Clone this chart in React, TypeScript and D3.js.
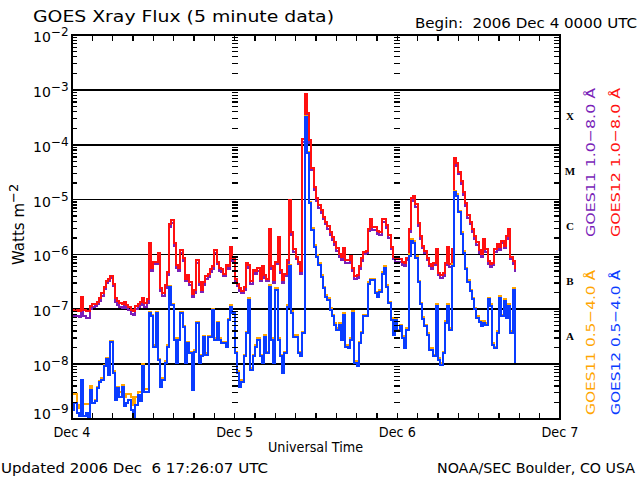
import React from 'react';
import * as d3 from 'd3';

const W = 640;
const H = 480;
const left = 72;
const right = 560;
const top = 35;
const bottom = 419;

const startTime = Date.UTC(2006, 11, 4);
const endTime = Date.UTC(2006, 11, 7);
const stepMinutes = 20;

const dayLabels = ['Dec 4', 'Dec 5', 'Dec 6', 'Dec 7'];
const decadeExps = [-2, -3, -4, -5, -6, -7, -8, -9];
const gridExps = [-3, -4, -5, -6, -7, -8];
const flareClasses = ['A', 'B', 'C', 'M', 'X'];
const flareClassExps = [-8, -7, -6, -5, -4];
const legendLabels = ['GOES11 1.0\u22128.0 \u00c5', 'GOES12 1.0\u22128.0 \u00c5', 'GOES11 0.5\u22124.0 \u00c5', 'GOES12 0.5\u22124.0 \u00c5'];
const seriesColors = ['#7a1fb8', '#ff1010', '#ffa500', '#0a3cff'];

// log10 of flux (W m^-2), one value every 20 minutes from Dec 4 00:00 UT
const goes11Long = [
  -7.10, -7.12, -7.12, -7.14, -7.05, -7.12, -7.16, -7.16, -7.00, -6.96, -6.94, -6.90,
  -6.84, -6.75, -6.63, -6.52, -6.48, -6.43, -6.57, -6.86, -6.92, -6.96, -6.98, -6.94,
  -6.98, -7.02, -7.08, -7.10, -7.00, -6.95, -6.92, -6.86, -6.95, -6.88, -5.85, -6.30,
  -6.18, -6.18, -6.02, -6.67, -6.76, -6.61, -6.37, -5.50, -5.43, -5.85, -6.24, -6.30,
  -5.97, -6.12, -6.49, -6.43, -6.55, -6.77, -6.70, -6.15, -6.55, -6.69, -6.55, -6.44,
  -6.41, -6.32, -6.26, -5.97, -6.18, -6.30, -6.32, -6.40, -6.24, -6.27, -5.91, -6.12,
  -6.50, -6.58, -6.67, -6.71, -6.65, -6.21, -6.24, -6.53, -6.33, -6.35, -6.30, -6.49,
  -6.27, -6.43, -6.49, -5.58, -6.27, -6.52, -6.18, -5.73, -6.33, -6.52, -6.40, -6.15,
  -5.05, -5.65, -5.96, -6.09, -6.18, -6.35, -3.95, -3.10, -3.46, -3.96, -4.47, -4.82,
  -5.03, -5.15, -5.24, -5.36, -5.45, -5.54, -5.64, -5.73, -5.82, -5.93, -6.04, -6.10,
  -5.94, -6.15, -6.15, -6.08, -6.30, -6.44, -6.43, -6.27, -6.12, -6.00, -5.98, -5.58,
  -5.40, -5.55, -5.55, -5.62, -5.64, -5.40, -5.40, -5.52, -5.70, -5.91, -6.09, -6.14,
  -6.13, -6.14, -6.19, -6.21, -6.11, -5.59, -5.03, -4.98, -5.13, -5.48, -5.72, -5.89,
  -5.98, -6.11, -6.22, -6.26, -6.20, -5.95, -6.38, -6.43, -6.39, -6.20, -5.91, -6.23,
  -5.95, -4.29, -4.38, -4.54, -4.72, -4.92, -5.11, -5.33, -5.45, -5.59, -5.71, -5.83,
  -5.97, -6.05, -5.77, -5.95, -6.17, -6.23, -6.20, -5.95, -5.86, -5.92, -5.80, -5.89,
  -5.71, -5.59, -6.09, -6.17, -6.32,
];

const goes12Long = [
  -7.02, -7.04, -7.01, -7.04, -6.78, -7.01, -7.04, -7.04, -6.94, -6.91, -6.90, -6.86,
  -6.80, -6.71, -6.59, -6.48, -6.44, -6.39, -6.53, -6.80, -6.84, -6.88, -6.90, -6.86,
  -6.92, -6.96, -7.01, -7.04, -6.94, -6.90, -6.86, -6.80, -6.89, -6.82, -5.80, -6.25,
  -6.13, -6.13, -5.98, -6.62, -6.71, -6.56, -6.32, -5.45, -5.38, -5.80, -6.19, -6.25,
  -5.92, -6.07, -6.44, -6.38, -6.50, -6.72, -6.65, -6.10, -6.50, -6.64, -6.50, -6.39,
  -6.36, -6.27, -6.21, -5.92, -6.13, -6.25, -6.27, -6.35, -6.19, -6.22, -5.86, -6.07,
  -6.45, -6.53, -6.62, -6.66, -6.60, -6.16, -6.19, -6.48, -6.28, -6.30, -6.25, -6.44,
  -6.22, -6.38, -6.44, -5.53, -6.22, -6.47, -6.13, -5.68, -6.28, -6.47, -6.35, -6.10,
  -5.00, -5.60, -5.91, -6.04, -6.13, -6.30, -3.90, -3.07, -3.42, -3.91, -4.42, -4.77,
  -4.98, -5.10, -5.19, -5.31, -5.40, -5.49, -5.59, -5.68, -5.77, -5.88, -5.99, -6.05,
  -5.89, -6.10, -6.10, -6.03, -6.25, -6.39, -6.38, -6.22, -6.07, -5.95, -5.93, -5.53,
  -5.35, -5.50, -5.50, -5.57, -5.59, -5.35, -5.35, -5.47, -5.65, -5.86, -6.04, -6.09,
  -6.08, -6.09, -6.14, -6.16, -6.06, -5.54, -4.98, -4.93, -5.08, -5.43, -5.67, -5.84,
  -5.93, -6.06, -6.17, -6.21, -6.15, -5.90, -6.33, -6.38, -6.34, -6.15, -5.86, -6.18,
  -5.90, -4.24, -4.33, -4.49, -4.67, -4.87, -5.06, -5.28, -5.40, -5.54, -5.66, -5.78,
  -5.92, -6.00, -5.72, -5.90, -6.12, -6.18, -6.15, -5.90, -5.81, -5.87, -5.75, -5.84,
  -5.66, -5.54, -6.04, -6.12, -6.27,
];

const goes11Short = [
  -8.55, -8.55, -8.75, -8.80, -8.28, -8.72, -8.72, -8.72, -8.40, -8.70, -8.66, -8.42,
  -8.30, -8.26, -8.02, -7.88, -8.15, -7.57, -8.12, -8.45, -8.42, -8.50, -8.38, -8.60,
  -8.55, -8.55, -8.60, -8.75, -8.60, -8.50, -8.50, -8.00, -8.45, -8.45, -7.05, -7.10,
  -7.65, -7.05, -7.90, -8.38, -8.25, -7.95, -7.65, -6.57, -6.90, -7.53, -7.95, -7.53,
  -7.05, -7.30, -7.95, -7.60, -7.78, -8.44, -7.75, -7.23, -7.95, -7.83, -7.48, -7.80,
  -7.48, -7.48, -6.99, -7.53, -7.23, -7.53, -7.60, -7.60, -7.65, -7.17, -6.93, -7.05,
  -7.77, -8.13, -8.38, -8.29, -7.83, -7.41, -6.80, -8.07, -7.83, -7.65, -7.53, -7.83,
  -7.95, -7.47, -7.77, -6.56, -7.53, -7.95, -6.62, -7.53, -7.83, -8.13, -7.77, -6.92,
  -6.19, -7.04, -7.47, -7.47, -7.77, -7.83, -7.41, -3.47, -4.13, -5.04, -5.52, -5.83,
  -6.01, -6.16, -6.38, -6.59, -6.74, -6.80, -6.98, -7.10, -7.25, -7.35, -7.25, -7.53,
  -7.07, -7.65, -7.68, -7.53, -7.04, -7.95, -8.01, -7.59, -7.41, -7.10, -7.10, -6.50,
  -6.44, -6.44, -6.68, -6.74, -6.65, -6.32, -6.22, -6.56, -6.86, -7.16, -7.44, -7.16,
  -7.37, -7.28, -7.49, -7.68, -7.34, -6.00, -5.72, -5.76, -6.03, -6.48, -6.88, -7.14,
  -7.28, -7.43, -7.71, -7.71, -7.83, -6.91, -7.89, -7.98, -7.77, -7.22, -6.91, -7.34,
  -6.18, -4.84, -4.90, -5.20, -5.60, -5.94, -6.24, -6.47, -6.64, -6.79, -6.97, -7.13,
  -7.21, -7.28, -7.22, -7.25, -6.79, -6.91, -7.62, -7.68, -7.40, -6.76, -7.10, -6.82,
  -7.13, -6.91, -7.40, -6.61, -7.95,
];

const goes12Short = [
  -8.83, -8.71, -8.89, -8.95, -8.28, -8.95, -8.89, -9.13, -8.47, -8.71, -8.68, -8.44,
  -8.32, -8.28, -8.04, -7.91, -8.19, -7.59, -8.16, -8.65, -8.44, -8.59, -8.41, -8.77,
  -8.71, -8.65, -8.83, -9.01, -8.74, -8.56, -8.68, -8.04, -8.50, -8.50, -7.07, -7.13,
  -7.68, -7.07, -7.92, -8.41, -8.28, -7.98, -7.68, -6.59, -6.92, -7.56, -7.98, -7.56,
  -7.07, -7.32, -7.98, -7.62, -7.80, -8.47, -7.77, -7.25, -7.98, -7.86, -7.50, -7.83,
  -7.50, -7.50, -7.01, -7.56, -7.25, -7.56, -7.62, -7.62, -7.68, -7.19, -6.95, -7.07,
  -7.80, -8.16, -8.41, -8.32, -7.86, -7.44, -6.83, -8.10, -7.86, -7.68, -7.56, -7.86,
  -7.98, -7.50, -7.80, -6.59, -7.56, -7.98, -6.65, -7.56, -7.86, -8.16, -7.80, -6.95,
  -6.22, -7.07, -7.50, -7.50, -7.80, -7.86, -7.44, -3.50, -4.16, -5.07, -5.55, -5.86,
  -6.04, -6.19, -6.41, -6.62, -6.77, -6.83, -7.01, -7.13, -7.28, -7.38, -7.28, -7.56,
  -7.10, -7.68, -7.71, -7.56, -7.07, -7.98, -8.04, -7.62, -7.44, -7.13, -7.13, -6.53,
  -6.47, -6.47, -6.71, -6.77, -6.68, -6.35, -6.25, -6.59, -6.89, -7.19, -7.47, -7.19,
  -7.40, -7.31, -7.52, -7.71, -7.37, -6.03, -5.75, -5.79, -6.06, -6.51, -6.91, -7.17,
  -7.31, -7.46, -7.74, -7.74, -7.86, -6.94, -7.92, -8.01, -7.80, -7.25, -6.94, -7.37,
  -6.21, -4.87, -4.93, -5.23, -5.63, -5.97, -6.27, -6.50, -6.67, -6.82, -7.00, -7.16,
  -7.24, -7.31, -7.25, -7.28, -6.82, -6.94, -7.65, -7.71, -7.43, -6.79, -7.13, -6.85,
  -7.16, -6.94, -7.43, -6.64, -7.98,
];

const seriesValues = [goes11Long, goes12Long, goes11Short, goes12Short];

export default function App() {
  const x = d3.scaleUtc().domain([new Date(startTime), new Date(endTime)]).range([left, right]);
  const y = d3.scaleLog().domain([1e-9, 1e-2]).range([bottom, top]);
  const timeAt = (i: number) => new Date(startTime + i * stepMinutes * 60000);

  const line = d3.line<number>()
    .x((_, i) => x(timeAt(i)))
    .y(v => y(Math.pow(10, v)))
    .curve(d3.curveStepAfter);

  const hourTicks = d3.utcHour.every(3)!.range(new Date(startTime), new Date(endTime + 1));
  const days = d3.utcDay.range(new Date(startTime), new Date(endTime + 1));
  const innerDays = days.slice(1, -1);

  const minorTicks: number[] = [];
  for (let e = -9; e < -2; e++) {
    for (let m = 2; m <= 9; m++) minorTicks.push(m * Math.pow(10, e));
  }

  const font = '"DejaVu Sans", sans-serif';

  return (
    <svg width={W} height={H} style={{ position: 'absolute', left: 0, top: 0, background: '#fff' }}
      fontFamily={font}>
      <defs>
        <clipPath id="plotClip">
          <rect x={left} y={top} width={right - left} height={bottom - top} />
        </clipPath>
      </defs>

      <text x={33} y={22} fontSize={16} textLength={301} lengthAdjust="spacingAndGlyphs">GOES Xray Flux (5 minute data)</text>
      <text x={415} y={28} fontSize={14} textLength={222} lengthAdjust="spacingAndGlyphs"
        style={{ whiteSpace: 'pre' }}>{'Begin:  2006 Dec 4 0000 UTC'}</text>

      {/* decade grid lines */}
      {gridExps.map(e => (
        <line key={e} x1={left} x2={right} y1={y(Math.pow(10, e))} y2={y(Math.pow(10, e))}
          stroke="#000" strokeWidth={1.6} shapeRendering="crispEdges" />
      ))}

      {/* data */}
      <g clipPath="url(#plotClip)">
        {seriesValues.map((vals, k) => (
          <path key={k} d={line(vals) ?? ''} fill="none" stroke={seriesColors[k]} strokeWidth={2}
            shapeRendering="crispEdges" />
        ))}
      </g>

      {/* minor log ticks: left, right and day boundaries */}
      <g stroke="#000" strokeWidth={1.3} shapeRendering="crispEdges">
        {minorTicks.map((v, i) => (
          <g key={i}>
            <line x1={left} x2={left + 5} y1={y(v)} y2={y(v)} />
            <line x1={right - 6} x2={right} y1={y(v)} y2={y(v)} />
            {innerDays.map((d, j) => (
              <line key={j} x1={x(d) - 3} x2={x(d) + 3} y1={y(v)} y2={y(v)} />
            ))}
          </g>
        ))}
        {hourTicks.map((t, i) => (
          <g key={'h' + i}>
            <line x1={x(t)} x2={x(t)} y1={bottom} y2={bottom - 6} />
            <line x1={x(t)} x2={x(t)} y1={top} y2={top + 6} />
          </g>
        ))}
      </g>

      {/* frame */}
      <rect x={left} y={top} width={right - left} height={bottom - top} fill="none" stroke="#000"
        strokeWidth={1.6} shapeRendering="crispEdges" />

      {/* y tick labels */}
      {decadeExps.map(e => (
        <text key={e} x={33} y={Math.min(y(Math.pow(10, e)) + 7, bottom)} fontSize={14}>
          10<tspan dy={-6} fontSize={12}>{'\u2212' + Math.abs(e)}</tspan>
        </text>
      ))}

      <text transform={`translate(24,265) rotate(-90)`} fontSize={15}>
        Watts m<tspan dy={-6} fontSize={13}>{'\u22122'}</tspan>
      </text>

      {/* x tick labels */}
      {days.map((d, i) => (
        <text key={i} x={x(d)} y={437} fontSize={14} textAnchor="middle" textLength={37}
          lengthAdjust="spacingAndGlyphs">{dayLabels[i]}</text>
      ))}
      <text x={268} y={452} fontSize={14} textLength={95} lengthAdjust="spacingAndGlyphs">Universal Time</text>

      <text x={1} y={473} fontSize={14} textLength={267} lengthAdjust="spacingAndGlyphs"
        style={{ whiteSpace: 'pre' }}>{'Updated 2006 Dec  6 17:26:07 UTC'}</text>
      <text x={437} y={473} fontSize={14} textLength={198} lengthAdjust="spacingAndGlyphs">NOAA/SEC Boulder, CO USA</text>

      {/* flare class letters */}
      {flareClasses.map((c, i) => {
        const mid = (y(Math.pow(10, flareClassExps[i])) + y(Math.pow(10, flareClassExps[i] + 1))) / 2;
        return (
          <text key={c} x={570} y={mid + 3} fontSize={11} fontWeight="bold" textAnchor="middle"
            fontFamily='"Liberation Serif", serif'>{c}</text>
        );
      })}

      {/* legend */}
      {legendLabels.map((label, i) => {
        const tx = i % 2 === 0 ? 595 : 620;
        const ty = i < 2 ? 237 : 415;
        const len = i < 2 ? 149 : 145;
        return (
          <text key={i} transform={`translate(${tx},${ty}) rotate(-90)`} fontSize={13}
            fill={seriesColors[i]} textLength={len} lengthAdjust="spacingAndGlyphs">{label}</text>
        );
      })}
    </svg>
  );
}
